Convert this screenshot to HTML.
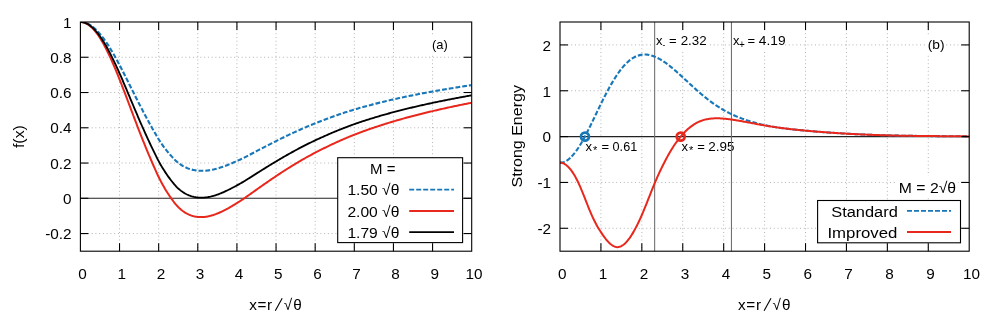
<!DOCTYPE html>
<html><head><meta charset="utf-8"><title>plots</title>
<style>
html,body{margin:0;padding:0;background:#fff;}
svg{display:block;font-family:"Liberation Sans", sans-serif;will-change:transform;}
.grid{stroke:#b4b4b4;stroke-width:1;stroke-dasharray:1 2.75;fill:none;}
.tick{stroke:#000;stroke-width:1.1;fill:none;}
.border{stroke:#000;stroke-width:1.1;fill:none;}
.zero{stroke:#222;stroke-width:1.1;fill:none;}
.vl{stroke:#6c6c6c;stroke-width:1.05;fill:none;}
.t15{font-size:15.3px;fill:#000;}
.t12{font-size:13px;fill:#000;}
.cur{fill:none;stroke-width:1.85;stroke-linejoin:round;}
</style></head><body>
<svg width="997" height="327" viewBox="0 0 997 327">
<rect x="0" y="0" width="997" height="327" fill="#fff"/>
<g id="pa">
<line x1="119.53" y1="22.00" x2="119.53" y2="251.20" class="grid"/>
<line x1="158.66" y1="22.00" x2="158.66" y2="251.20" class="grid"/>
<line x1="197.79" y1="22.00" x2="197.79" y2="251.20" class="grid"/>
<line x1="236.92" y1="22.00" x2="236.92" y2="251.20" class="grid"/>
<line x1="276.05" y1="22.00" x2="276.05" y2="251.20" class="grid"/>
<line x1="315.18" y1="22.00" x2="315.18" y2="251.20" class="grid"/>
<line x1="354.31" y1="22.00" x2="354.31" y2="251.20" class="grid"/>
<line x1="393.44" y1="22.00" x2="393.44" y2="251.20" class="grid"/>
<line x1="432.57" y1="22.00" x2="432.57" y2="251.20" class="grid"/>
<line x1="80.40" y1="57.26" x2="471.70" y2="57.26" class="grid"/>
<line x1="80.40" y1="92.52" x2="471.70" y2="92.52" class="grid"/>
<line x1="80.40" y1="127.78" x2="471.70" y2="127.78" class="grid"/>
<line x1="80.40" y1="163.05" x2="471.70" y2="163.05" class="grid"/>
<line x1="80.40" y1="233.57" x2="471.70" y2="233.57" class="grid"/>
<rect x="430" y="37" width="20" height="18" fill="#fff"/>
<text x="432.0" y="49.4" class="t12" textLength="15.8" lengthAdjust="spacingAndGlyphs">(a)</text>
<line x1="80.4" y1="198.31" x2="471.7" y2="198.31" class="zero"/>
<clipPath id="ca"><rect x="80.4" y="22.0" width="391.29999999999995" height="229.2"/></clipPath>
<g clip-path="url(#ca)">
<path d="M80.40,22.00 L81.38,22.03 L82.36,22.12 L83.33,22.28 L84.31,22.50 L85.29,22.78 L86.27,23.12 L87.25,23.52 L88.23,23.98 L89.20,24.50 L90.18,25.08 L91.16,25.72 L92.14,26.42 L93.12,27.17 L94.10,27.98 L95.07,28.85 L96.05,29.77 L97.03,30.74 L98.01,31.77 L98.99,32.85 L99.97,33.98 L100.94,35.16 L101.92,36.38 L102.90,37.65 L103.88,38.97 L104.86,40.33 L105.83,41.74 L106.81,43.18 L107.79,44.67 L108.77,46.19 L109.75,47.75 L110.73,49.35 L111.70,50.98 L112.68,52.63 L113.66,54.32 L114.64,56.04 L115.62,57.78 L116.60,59.55 L117.57,61.34 L118.55,63.16 L119.53,64.99 L120.51,66.84 L121.49,68.72 L122.46,70.61 L123.44,72.53 L124.42,74.46 L125.40,76.40 L126.38,78.35 L127.36,80.31 L128.33,82.27 L129.31,84.24 L130.29,86.20 L131.27,88.17 L132.25,90.13 L133.23,92.08 L134.20,94.03 L135.18,95.98 L136.16,97.91 L137.14,99.84 L138.12,101.77 L139.09,103.68 L140.07,105.58 L141.05,107.47 L142.03,109.34 L143.01,111.20 L143.99,113.06 L144.96,114.90 L145.94,116.74 L146.92,118.56 L147.90,120.37 L148.88,122.16 L149.86,123.94 L150.83,125.70 L151.81,127.44 L152.79,129.16 L153.77,130.88 L154.75,132.62 L155.73,134.35 L156.70,136.06 L157.68,137.72 L158.66,139.31 L159.64,140.84 L160.62,142.33 L161.59,143.77 L162.57,145.16 L163.55,146.52 L164.53,147.84 L165.51,149.12 L166.49,150.36 L167.46,151.57 L168.44,152.74 L169.42,153.88 L170.40,155.00 L171.38,156.09 L172.36,157.16 L173.33,158.21 L174.31,159.24 L175.29,160.22 L176.27,161.15 L177.25,162.02 L178.22,162.82 L179.20,163.55 L180.18,164.24 L181.16,164.89 L182.14,165.51 L183.12,166.08 L184.09,166.61 L185.07,167.11 L186.05,167.57 L187.03,168.00 L188.01,168.39 L188.99,168.75 L189.96,169.08 L190.94,169.37 L191.92,169.63 L192.90,169.87 L193.88,170.07 L194.86,170.25 L195.83,170.40 L196.81,170.53 L197.79,170.63 L198.77,170.71 L199.75,170.77 L200.72,170.81 L201.70,170.82 L202.68,170.82 L203.66,170.79 L204.64,170.75 L205.62,170.68 L206.59,170.59 L207.57,170.49 L208.55,170.36 L209.53,170.22 L210.51,170.05 L211.49,169.88 L212.46,169.68 L213.44,169.47 L214.42,169.25 L215.40,169.00 L216.38,168.75 L217.35,168.48 L218.33,168.20 L219.31,167.91 L220.29,167.60 L221.27,167.28 L222.25,166.95 L223.22,166.62 L224.20,166.27 L225.18,165.91 L226.16,165.54 L227.14,165.16 L228.12,164.78 L229.09,164.39 L230.07,163.99 L231.05,163.58 L232.03,163.17 L233.01,162.75 L233.99,162.32 L234.96,161.89 L235.94,161.46 L236.92,161.02 L237.90,160.58 L238.88,160.14 L239.85,159.70 L240.83,159.25 L241.81,158.79 L242.79,158.33 L243.77,157.84 L244.75,157.34 L245.72,156.84 L246.70,156.33 L247.68,155.82 L248.66,155.31 L249.64,154.80 L250.62,154.28 L251.59,153.77 L252.57,153.25 L253.55,152.74 L254.53,152.22 L255.51,151.71 L256.49,151.19 L257.46,150.68 L258.44,150.16 L259.42,149.65 L260.40,149.14 L261.38,148.62 L262.35,148.11 L263.33,147.60 L264.31,147.09 L265.29,146.59 L266.27,146.08 L267.25,145.57 L268.22,145.07 L269.20,144.57 L270.18,144.06 L271.16,143.57 L272.14,143.07 L273.12,142.57 L274.09,142.08 L275.07,141.58 L276.05,141.09 L277.03,140.60 L278.01,140.12 L278.98,139.63 L279.96,139.15 L280.94,138.67 L281.92,138.18 L282.90,137.71 L283.88,137.23 L284.85,136.76 L285.83,136.28 L286.81,135.81 L287.79,135.35 L288.77,134.88 L289.75,134.42 L290.72,133.96 L291.70,133.50 L292.68,133.04 L293.66,132.59 L294.64,132.14 L295.62,131.69 L296.59,131.25 L297.57,130.80 L298.55,130.36 L299.53,129.93 L300.51,129.49 L301.48,129.06 L302.46,128.63 L303.44,128.21 L304.42,127.78 L305.40,127.36 L306.38,126.95 L307.35,126.53 L308.33,126.12 L309.31,125.72 L310.29,125.31 L311.27,124.91 L312.25,124.51 L313.22,124.12 L314.20,123.73 L315.18,123.34 L316.16,122.95 L317.14,122.57 L318.11,122.19 L319.09,121.80 L320.07,121.42 L321.05,121.05 L322.03,120.67 L323.01,120.30 L323.98,119.93 L324.96,119.56 L325.94,119.19 L326.92,118.82 L327.90,118.46 L328.88,118.10 L329.85,117.74 L330.83,117.38 L331.81,117.02 L332.79,116.67 L333.77,116.32 L334.75,115.97 L335.72,115.62 L336.70,115.28 L337.68,114.94 L338.66,114.60 L339.64,114.26 L340.61,113.93 L341.59,113.60 L342.57,113.27 L343.55,112.94 L344.53,112.62 L345.51,112.30 L346.48,111.98 L347.46,111.67 L348.44,111.36 L349.42,111.05 L350.40,110.74 L351.38,110.44 L352.35,110.14 L353.33,109.84 L354.31,109.55 L355.29,109.26 L356.27,108.97 L357.24,108.68 L358.22,108.40 L359.20,108.11 L360.18,107.83 L361.16,107.56 L362.14,107.28 L363.11,107.01 L364.09,106.74 L365.07,106.47 L366.05,106.20 L367.03,105.93 L368.01,105.67 L368.98,105.41 L369.96,105.15 L370.94,104.89 L371.92,104.63 L372.90,104.38 L373.88,104.12 L374.85,103.87 L375.83,103.62 L376.81,103.37 L377.79,103.13 L378.77,102.88 L379.74,102.64 L380.72,102.40 L381.70,102.16 L382.68,101.92 L383.66,101.68 L384.64,101.45 L385.61,101.22 L386.59,100.98 L387.57,100.75 L388.55,100.52 L389.53,100.30 L390.51,100.07 L391.48,99.85 L392.46,99.62 L393.44,99.40 L394.42,99.18 L395.40,98.96 L396.37,98.74 L397.35,98.52 L398.33,98.31 L399.31,98.09 L400.29,97.88 L401.27,97.67 L402.24,97.46 L403.22,97.25 L404.20,97.05 L405.18,96.84 L406.16,96.63 L407.14,96.43 L408.11,96.23 L409.09,96.03 L410.07,95.83 L411.05,95.63 L412.03,95.43 L413.00,95.24 L413.98,95.04 L414.96,94.85 L415.94,94.65 L416.92,94.46 L417.90,94.27 L418.87,94.08 L419.85,93.89 L420.83,93.70 L421.81,93.52 L422.79,93.33 L423.77,93.15 L424.74,92.96 L425.72,92.78 L426.70,92.60 L427.68,92.42 L428.66,92.24 L429.64,92.06 L430.61,91.88 L431.59,91.70 L432.57,91.52 L433.55,91.35 L434.53,91.17 L435.50,91.00 L436.48,90.83 L437.46,90.65 L438.44,90.48 L439.42,90.31 L440.40,90.14 L441.37,89.97 L442.35,89.80 L443.33,89.64 L444.31,89.47 L445.29,89.30 L446.27,89.14 L447.24,88.97 L448.22,88.81 L449.20,88.65 L450.18,88.49 L451.16,88.33 L452.13,88.17 L453.11,88.01 L454.09,87.85 L455.07,87.69 L456.05,87.53 L457.03,87.38 L458.00,87.22 L458.98,87.07 L459.96,86.91 L460.94,86.76 L461.92,86.61 L462.90,86.45 L463.87,86.30 L464.85,86.15 L465.83,86.00 L466.81,85.85 L467.79,85.71 L468.77,85.56 L469.74,85.41 L470.72,85.26 L471.70,85.12" class="cur" stroke="#1777b8" style="stroke-width:2.1" stroke-dasharray="4.8 2"/>
<path d="M80.40,22.00 L81.38,22.04 L82.36,22.17 L83.33,22.37 L84.31,22.66 L85.29,23.03 L86.27,23.49 L87.25,24.02 L88.23,24.64 L89.20,25.33 L90.18,26.11 L91.16,26.96 L92.14,27.89 L93.12,28.89 L94.10,29.98 L95.07,31.13 L96.05,32.36 L97.03,33.66 L98.01,35.03 L98.99,36.47 L99.97,37.97 L100.94,39.54 L101.92,41.17 L102.90,42.87 L103.88,44.63 L104.86,46.44 L105.83,48.32 L106.81,50.24 L107.79,52.22 L108.77,54.25 L109.75,56.33 L110.73,58.45 L111.70,60.62 L112.68,62.83 L113.66,65.08 L114.64,67.37 L115.62,69.69 L116.60,72.05 L117.57,74.43 L118.55,76.85 L119.53,79.29 L120.51,81.76 L121.49,84.25 L122.46,86.77 L123.44,89.31 L124.42,91.87 L125.40,94.45 L126.38,97.03 L127.36,99.63 L128.33,102.23 L129.31,104.84 L130.29,107.44 L131.27,110.04 L132.25,112.64 L133.23,115.23 L134.20,117.82 L135.18,120.40 L136.16,122.96 L137.14,125.52 L138.12,128.06 L139.09,130.59 L140.07,133.10 L141.05,135.59 L142.03,138.07 L143.01,140.53 L143.99,142.97 L144.96,145.39 L145.94,147.80 L146.92,150.19 L147.90,152.55 L148.88,154.90 L149.86,157.22 L150.83,159.51 L151.81,161.77 L152.79,164.00 L153.77,166.23 L154.75,168.45 L155.73,170.67 L156.70,172.85 L157.68,174.97 L158.66,177.01 L159.64,178.98 L160.62,180.89 L161.59,182.74 L162.57,184.54 L163.55,186.29 L164.53,187.99 L165.51,189.64 L166.49,191.24 L167.46,192.79 L168.44,194.30 L169.42,195.76 L170.40,197.19 L171.38,198.57 L172.36,199.93 L173.33,201.26 L174.31,202.54 L175.29,203.78 L176.27,204.95 L177.25,206.04 L178.22,207.05 L179.20,207.99 L180.18,208.87 L181.16,209.71 L182.14,210.49 L183.12,211.22 L184.09,211.90 L185.07,212.54 L186.05,213.12 L187.03,213.67 L188.01,214.16 L188.99,214.62 L189.96,215.03 L190.94,215.40 L191.92,215.73 L192.90,216.02 L193.88,216.27 L194.86,216.49 L195.83,216.67 L196.81,216.81 L197.79,216.93 L198.77,217.01 L199.75,217.06 L200.72,217.09 L201.70,217.08 L202.68,217.05 L203.66,216.99 L204.64,216.90 L205.62,216.78 L206.59,216.64 L207.57,216.47 L208.55,216.28 L209.53,216.06 L210.51,215.82 L211.49,215.55 L212.46,215.26 L213.44,214.96 L214.42,214.63 L215.40,214.28 L216.38,213.92 L217.35,213.53 L218.33,213.13 L219.31,212.71 L220.29,212.28 L221.27,211.83 L222.25,211.36 L223.22,210.88 L224.20,210.39 L225.18,209.89 L226.16,209.37 L227.14,208.84 L228.12,208.31 L229.09,207.76 L230.07,207.20 L231.05,206.63 L232.03,206.06 L233.01,205.47 L233.99,204.88 L234.96,204.28 L235.94,203.68 L236.92,203.07 L237.90,202.45 L238.88,201.84 L239.85,201.23 L240.83,200.60 L241.81,199.97 L242.79,199.33 L243.77,198.67 L244.75,197.99 L245.72,197.30 L246.70,196.61 L247.68,195.93 L248.66,195.24 L249.64,194.54 L250.62,193.85 L251.59,193.16 L252.57,192.46 L253.55,191.77 L254.53,191.07 L255.51,190.38 L256.49,189.69 L257.46,188.99 L258.44,188.30 L259.42,187.61 L260.40,186.92 L261.38,186.23 L262.35,185.54 L263.33,184.86 L264.31,184.18 L265.29,183.49 L266.27,182.81 L267.25,182.14 L268.22,181.46 L269.20,180.79 L270.18,180.12 L271.16,179.45 L272.14,178.78 L273.12,178.12 L274.09,177.46 L275.07,176.80 L276.05,176.15 L277.03,175.50 L278.01,174.85 L278.98,174.20 L279.96,173.56 L280.94,172.92 L281.92,172.28 L282.90,171.64 L283.88,171.01 L284.85,170.38 L285.83,169.76 L286.81,169.14 L287.79,168.52 L288.77,167.90 L289.75,167.29 L290.72,166.68 L291.70,166.08 L292.68,165.47 L293.66,164.88 L294.64,164.28 L295.62,163.69 L296.59,163.11 L297.57,162.52 L298.55,161.94 L299.53,161.37 L300.51,160.80 L301.48,160.23 L302.46,159.67 L303.44,159.11 L304.42,158.55 L305.40,158.00 L306.38,157.45 L307.35,156.91 L308.33,156.37 L309.31,155.83 L310.29,155.30 L311.27,154.78 L312.25,154.25 L313.22,153.73 L314.20,153.22 L315.18,152.71 L316.16,152.20 L317.14,151.70 L318.11,151.20 L319.09,150.70 L320.07,150.20 L321.05,149.71 L322.03,149.22 L323.01,148.73 L323.98,148.24 L324.96,147.76 L325.94,147.28 L326.92,146.80 L327.90,146.33 L328.88,145.86 L329.85,145.39 L330.83,144.92 L331.81,144.46 L332.79,144.00 L333.77,143.55 L334.75,143.09 L335.72,142.64 L336.70,142.20 L337.68,141.75 L338.66,141.31 L339.64,140.87 L340.61,140.44 L341.59,140.01 L342.57,139.58 L343.55,139.16 L344.53,138.74 L345.51,138.32 L346.48,137.91 L347.46,137.50 L348.44,137.09 L349.42,136.69 L350.40,136.29 L351.38,135.90 L352.35,135.51 L353.33,135.12 L354.31,134.73 L355.29,134.35 L356.27,133.98 L357.24,133.60 L358.22,133.23 L359.20,132.86 L360.18,132.49 L361.16,132.13 L362.14,131.77 L363.11,131.41 L364.09,131.05 L365.07,130.70 L366.05,130.35 L367.03,130.00 L368.01,129.65 L368.98,129.31 L369.96,128.97 L370.94,128.63 L371.92,128.30 L372.90,127.96 L373.88,127.63 L374.85,127.30 L375.83,126.97 L376.81,126.65 L377.79,126.33 L378.77,126.01 L379.74,125.69 L380.72,125.37 L381.70,125.06 L382.68,124.74 L383.66,124.43 L384.64,124.13 L385.61,123.82 L386.59,123.52 L387.57,123.21 L388.55,122.91 L389.53,122.61 L390.51,122.32 L391.48,122.02 L392.46,121.73 L393.44,121.44 L394.42,121.15 L395.40,120.86 L396.37,120.57 L397.35,120.29 L398.33,120.01 L399.31,119.73 L400.29,119.45 L401.27,119.17 L402.24,118.90 L403.22,118.62 L404.20,118.35 L405.18,118.08 L406.16,117.81 L407.14,117.55 L408.11,117.28 L409.09,117.02 L410.07,116.76 L411.05,116.49 L412.03,116.24 L413.00,115.98 L413.98,115.72 L414.96,115.47 L415.94,115.21 L416.92,114.96 L417.90,114.71 L418.87,114.46 L419.85,114.22 L420.83,113.97 L421.81,113.72 L422.79,113.48 L423.77,113.24 L424.74,113.00 L425.72,112.76 L426.70,112.52 L427.68,112.28 L428.66,112.05 L429.64,111.81 L430.61,111.58 L431.59,111.35 L432.57,111.11 L433.55,110.88 L434.53,110.65 L435.50,110.43 L436.48,110.20 L437.46,109.97 L438.44,109.75 L439.42,109.53 L440.40,109.30 L441.37,109.08 L442.35,108.86 L443.33,108.64 L444.31,108.43 L445.29,108.21 L446.27,108.00 L447.24,107.78 L448.22,107.57 L449.20,107.36 L450.18,107.14 L451.16,106.93 L452.13,106.73 L453.11,106.52 L454.09,106.31 L455.07,106.10 L456.05,105.90 L457.03,105.69 L458.00,105.49 L458.98,105.29 L459.96,105.09 L460.94,104.89 L461.92,104.69 L462.90,104.49 L463.87,104.29 L464.85,104.10 L465.83,103.90 L466.81,103.71 L467.79,103.51 L468.77,103.32 L469.74,103.13 L470.72,102.94 L471.70,102.75" class="cur" stroke="#e8281c" style="stroke-width:2.0"/>
<path d="M80.40,22.00 L81.38,22.04 L82.36,22.15 L83.33,22.33 L84.31,22.59 L85.29,22.93 L86.27,23.33 L87.25,23.81 L88.23,24.36 L89.20,24.98 L90.18,25.67 L91.16,26.44 L92.14,27.27 L93.12,28.17 L94.10,29.14 L95.07,30.17 L96.05,31.27 L97.03,32.43 L98.01,33.66 L98.99,34.95 L99.97,36.29 L100.94,37.70 L101.92,39.16 L102.90,40.68 L103.88,42.25 L104.86,43.88 L105.83,45.55 L106.81,47.28 L107.79,49.05 L108.77,50.87 L109.75,52.73 L110.73,54.63 L111.70,56.57 L112.68,58.55 L113.66,60.56 L114.64,62.61 L115.62,64.69 L116.60,66.80 L117.57,68.94 L118.55,71.10 L119.53,73.28 L120.51,75.49 L121.49,77.73 L122.46,79.98 L123.44,82.26 L124.42,84.56 L125.40,86.87 L126.38,89.19 L127.36,91.51 L128.33,93.85 L129.31,96.18 L130.29,98.52 L131.27,100.86 L132.25,103.19 L133.23,105.51 L134.20,107.83 L135.18,110.14 L136.16,112.44 L137.14,114.73 L138.12,117.02 L139.09,119.28 L140.07,121.54 L141.05,123.78 L142.03,126.00 L143.01,128.21 L143.99,130.41 L144.96,132.59 L145.94,134.75 L146.92,136.90 L147.90,139.04 L148.88,141.15 L149.86,143.24 L150.83,145.31 L151.81,147.35 L152.79,149.37 L153.77,151.38 L154.75,153.41 L155.73,155.42 L156.70,157.40 L157.68,159.32 L158.66,161.18 L159.64,162.96 L160.62,164.69 L161.59,166.37 L162.57,168.00 L163.55,169.59 L164.53,171.12 L165.51,172.62 L166.49,174.07 L167.46,175.47 L168.44,176.84 L169.42,178.17 L170.40,179.47 L171.38,180.73 L172.36,181.97 L173.33,183.18 L174.31,184.36 L175.29,185.48 L176.27,186.55 L177.25,187.55 L178.22,188.47 L179.20,189.32 L180.18,190.13 L181.16,190.89 L182.14,191.60 L183.12,192.26 L184.09,192.88 L185.07,193.46 L186.05,193.99 L187.03,194.49 L188.01,194.94 L188.99,195.35 L189.96,195.73 L190.94,196.07 L191.92,196.37 L192.90,196.63 L193.88,196.87 L194.86,197.07 L195.83,197.24 L196.81,197.38 L197.79,197.48 L198.77,197.57 L199.75,197.62 L200.72,197.65 L201.70,197.65 L202.68,197.63 L203.66,197.59 L204.64,197.52 L205.62,197.42 L206.59,197.30 L207.57,197.16 L208.55,196.99 L209.53,196.80 L210.51,196.60 L211.49,196.37 L212.46,196.12 L213.44,195.85 L214.42,195.57 L215.40,195.27 L216.38,194.95 L217.35,194.61 L218.33,194.26 L219.31,193.89 L220.29,193.51 L221.27,193.12 L222.25,192.71 L223.22,192.29 L224.20,191.86 L225.18,191.42 L226.16,190.96 L227.14,190.50 L228.12,190.02 L229.09,189.54 L230.07,189.05 L231.05,188.55 L232.03,188.04 L233.01,187.53 L233.99,187.01 L234.96,186.48 L235.94,185.94 L236.92,185.41 L237.90,184.86 L238.88,184.33 L239.85,183.78 L240.83,183.23 L241.81,182.68 L242.79,182.11 L243.77,181.52 L244.75,180.92 L245.72,180.31 L246.70,179.69 L247.68,179.08 L248.66,178.47 L249.64,177.85 L250.62,177.23 L251.59,176.61 L252.57,175.99 L253.55,175.38 L254.53,174.76 L255.51,174.14 L256.49,173.52 L257.46,172.90 L258.44,172.28 L259.42,171.67 L260.40,171.05 L261.38,170.44 L262.35,169.82 L263.33,169.21 L264.31,168.60 L265.29,167.99 L266.27,167.38 L267.25,166.78 L268.22,166.18 L269.20,165.57 L270.18,164.98 L271.16,164.38 L272.14,163.78 L273.12,163.19 L274.09,162.60 L275.07,162.01 L276.05,161.43 L277.03,160.84 L278.01,160.26 L278.98,159.68 L279.96,159.11 L280.94,158.53 L281.92,157.96 L282.90,157.39 L283.88,156.82 L284.85,156.26 L285.83,155.70 L286.81,155.14 L287.79,154.58 L288.77,154.03 L289.75,153.48 L290.72,152.94 L291.70,152.39 L292.68,151.85 L293.66,151.32 L294.64,150.78 L295.62,150.25 L296.59,149.72 L297.57,149.20 L298.55,148.68 L299.53,148.16 L300.51,147.65 L301.48,147.14 L302.46,146.63 L303.44,146.13 L304.42,145.63 L305.40,145.13 L306.38,144.64 L307.35,144.15 L308.33,143.67 L309.31,143.19 L310.29,142.71 L311.27,142.23 L312.25,141.76 L313.22,141.30 L314.20,140.83 L315.18,140.37 L316.16,139.92 L317.14,139.46 L318.11,139.01 L319.09,138.56 L320.07,138.11 L321.05,137.67 L322.03,137.23 L323.01,136.79 L323.98,136.35 L324.96,135.91 L325.94,135.48 L326.92,135.05 L327.90,134.62 L328.88,134.20 L329.85,133.77 L330.83,133.35 L331.81,132.94 L332.79,132.52 L333.77,132.11 L334.75,131.70 L335.72,131.29 L336.70,130.89 L337.68,130.49 L338.66,130.09 L339.64,129.70 L340.61,129.31 L341.59,128.92 L342.57,128.53 L343.55,128.15 L344.53,127.77 L345.51,127.39 L346.48,127.02 L347.46,126.65 L348.44,126.28 L349.42,125.92 L350.40,125.56 L351.38,125.20 L352.35,124.85 L353.33,124.50 L354.31,124.16 L355.29,123.81 L356.27,123.47 L357.24,123.13 L358.22,122.80 L359.20,122.47 L360.18,122.14 L361.16,121.81 L362.14,121.48 L363.11,121.16 L364.09,120.84 L365.07,120.52 L366.05,120.21 L367.03,119.89 L368.01,119.58 L368.98,119.27 L369.96,118.96 L370.94,118.66 L371.92,118.36 L372.90,118.06 L373.88,117.76 L374.85,117.46 L375.83,117.17 L376.81,116.87 L377.79,116.58 L378.77,116.29 L379.74,116.01 L380.72,115.72 L381.70,115.44 L382.68,115.16 L383.66,114.88 L384.64,114.60 L385.61,114.33 L386.59,114.05 L387.57,113.78 L388.55,113.51 L389.53,113.24 L390.51,112.97 L391.48,112.71 L392.46,112.44 L393.44,112.18 L394.42,111.92 L395.40,111.66 L396.37,111.40 L397.35,111.15 L398.33,110.89 L399.31,110.64 L400.29,110.39 L401.27,110.14 L402.24,109.89 L403.22,109.65 L404.20,109.40 L405.18,109.16 L406.16,108.92 L407.14,108.68 L408.11,108.44 L409.09,108.20 L410.07,107.97 L411.05,107.73 L412.03,107.50 L413.00,107.27 L413.98,107.04 L414.96,106.81 L415.94,106.58 L416.92,106.35 L417.90,106.13 L418.87,105.90 L419.85,105.68 L420.83,105.46 L421.81,105.24 L422.79,105.02 L423.77,104.80 L424.74,104.58 L425.72,104.37 L426.70,104.15 L427.68,103.94 L428.66,103.73 L429.64,103.51 L430.61,103.30 L431.59,103.09 L432.57,102.89 L433.55,102.68 L434.53,102.47 L435.50,102.27 L436.48,102.06 L437.46,101.86 L438.44,101.66 L439.42,101.46 L440.40,101.26 L441.37,101.06 L442.35,100.86 L443.33,100.66 L444.31,100.47 L445.29,100.27 L446.27,100.08 L447.24,99.88 L448.22,99.69 L449.20,99.50 L450.18,99.31 L451.16,99.12 L452.13,98.93 L453.11,98.74 L454.09,98.56 L455.07,98.37 L456.05,98.19 L457.03,98.00 L458.00,97.82 L458.98,97.64 L459.96,97.45 L460.94,97.27 L461.92,97.09 L462.90,96.92 L463.87,96.74 L464.85,96.56 L465.83,96.38 L466.81,96.21 L467.79,96.03 L468.77,95.86 L469.74,95.69 L470.72,95.52 L471.70,95.34" class="cur" stroke="#000000"/>
</g>
<line x1="119.53" y1="251.20" x2="119.53" y2="243.20" class="tick"/>
<line x1="119.53" y1="22.00" x2="119.53" y2="30.00" class="tick"/>
<line x1="158.66" y1="251.20" x2="158.66" y2="243.20" class="tick"/>
<line x1="158.66" y1="22.00" x2="158.66" y2="30.00" class="tick"/>
<line x1="197.79" y1="251.20" x2="197.79" y2="243.20" class="tick"/>
<line x1="197.79" y1="22.00" x2="197.79" y2="30.00" class="tick"/>
<line x1="236.92" y1="251.20" x2="236.92" y2="243.20" class="tick"/>
<line x1="236.92" y1="22.00" x2="236.92" y2="30.00" class="tick"/>
<line x1="276.05" y1="251.20" x2="276.05" y2="243.20" class="tick"/>
<line x1="276.05" y1="22.00" x2="276.05" y2="30.00" class="tick"/>
<line x1="315.18" y1="251.20" x2="315.18" y2="243.20" class="tick"/>
<line x1="315.18" y1="22.00" x2="315.18" y2="30.00" class="tick"/>
<line x1="354.31" y1="251.20" x2="354.31" y2="243.20" class="tick"/>
<line x1="354.31" y1="22.00" x2="354.31" y2="30.00" class="tick"/>
<line x1="393.44" y1="251.20" x2="393.44" y2="243.20" class="tick"/>
<line x1="393.44" y1="22.00" x2="393.44" y2="30.00" class="tick"/>
<line x1="432.57" y1="251.20" x2="432.57" y2="243.20" class="tick"/>
<line x1="432.57" y1="22.00" x2="432.57" y2="30.00" class="tick"/>
<line x1="80.40" y1="57.26" x2="88.40" y2="57.26" class="tick"/>
<line x1="471.70" y1="57.26" x2="463.70" y2="57.26" class="tick"/>
<line x1="80.40" y1="92.52" x2="88.40" y2="92.52" class="tick"/>
<line x1="471.70" y1="92.52" x2="463.70" y2="92.52" class="tick"/>
<line x1="80.40" y1="127.78" x2="88.40" y2="127.78" class="tick"/>
<line x1="471.70" y1="127.78" x2="463.70" y2="127.78" class="tick"/>
<line x1="80.40" y1="163.05" x2="88.40" y2="163.05" class="tick"/>
<line x1="471.70" y1="163.05" x2="463.70" y2="163.05" class="tick"/>
<line x1="80.40" y1="198.31" x2="88.40" y2="198.31" class="tick"/>
<line x1="471.70" y1="198.31" x2="463.70" y2="198.31" class="tick"/>
<line x1="80.40" y1="233.57" x2="88.40" y2="233.57" class="tick"/>
<line x1="471.70" y1="233.57" x2="463.70" y2="233.57" class="tick"/>
<rect x="337.7" y="157.7" width="124.9" height="84.9" fill="#fff" stroke="#000" stroke-width="1.1"/>
<text x="370.0" y="174.0" class="t15" textLength="25.4" lengthAdjust="spacingAndGlyphs">M =</text>
<text x="347.4" y="195.3" class="t15" textLength="52.0" lengthAdjust="spacingAndGlyphs">1.50 √θ</text>
<line x1="409.2" y1="189.6" x2="454.0" y2="189.6" stroke="#1777b8" stroke-width="1.9" stroke-dasharray="5 2"/>
<text x="347.4" y="216.7" class="t15" textLength="52.0" lengthAdjust="spacingAndGlyphs">2.00 √θ</text>
<line x1="409.2" y1="210.9" x2="454.0" y2="210.9" stroke="#e8281c" stroke-width="2.0"/>
<text x="347.4" y="238.0" class="t15" textLength="52.0" lengthAdjust="spacingAndGlyphs">1.79 √θ</text>
<line x1="409.2" y1="232.2" x2="454.0" y2="232.2" stroke="#000000" stroke-width="1.75"/>
<rect x="80.4" y="22.0" width="391.30" height="229.20" class="border"/>
<text x="71.6" y="27.6" class="t15" text-anchor="end">1</text>
<text x="71.6" y="62.9" class="t15" text-anchor="end">0.8</text>
<text x="71.6" y="98.1" class="t15" text-anchor="end">0.6</text>
<text x="71.6" y="133.4" class="t15" text-anchor="end">0.4</text>
<text x="71.6" y="168.6" class="t15" text-anchor="end">0.2</text>
<text x="71.6" y="203.9" class="t15" text-anchor="end">0</text>
<text x="71.6" y="239.2" class="t15" text-anchor="end">-0.2</text>
<text x="82.6" y="278.9" class="t15" text-anchor="middle">0</text>
<text x="121.7" y="278.9" class="t15" text-anchor="middle">1</text>
<text x="160.9" y="278.9" class="t15" text-anchor="middle">2</text>
<text x="200.0" y="278.9" class="t15" text-anchor="middle">3</text>
<text x="239.1" y="278.9" class="t15" text-anchor="middle">4</text>
<text x="278.2" y="278.9" class="t15" text-anchor="middle">5</text>
<text x="317.4" y="278.9" class="t15" text-anchor="middle">6</text>
<text x="356.5" y="278.9" class="t15" text-anchor="middle">7</text>
<text x="395.6" y="278.9" class="t15" text-anchor="middle">8</text>
<text x="434.8" y="278.9" class="t15" text-anchor="middle">9</text>
<text x="473.9" y="278.9" class="t15" text-anchor="middle">10</text>
<text transform="translate(24.0,136.6) rotate(-90)" class="t15" text-anchor="middle" textLength="23" lengthAdjust="spacingAndGlyphs">f(x)</text>
<text y="310.4" class="t15"><tspan x="249.3">x</tspan><tspan x="257.5">=</tspan><tspan x="267.1">r</tspan><tspan x="283.8">√</tspan><tspan x="293.3">θ</tspan></text>
<line x1="275.3" y1="310.8" x2="282.2" y2="298.3" stroke="#000" stroke-width="1.1"/>
</g>
<g id="pb">
<line x1="600.92" y1="22.00" x2="600.92" y2="251.20" class="grid"/>
<line x1="641.84" y1="22.00" x2="641.84" y2="251.20" class="grid"/>
<line x1="682.76" y1="22.00" x2="682.76" y2="251.20" class="grid"/>
<line x1="723.68" y1="22.00" x2="723.68" y2="251.20" class="grid"/>
<line x1="764.60" y1="22.00" x2="764.60" y2="251.20" class="grid"/>
<line x1="805.52" y1="22.00" x2="805.52" y2="251.20" class="grid"/>
<line x1="846.44" y1="22.00" x2="846.44" y2="251.20" class="grid"/>
<line x1="887.36" y1="22.00" x2="887.36" y2="251.20" class="grid"/>
<line x1="928.28" y1="22.00" x2="928.28" y2="251.20" class="grid"/>
<line x1="560.00" y1="44.92" x2="969.20" y2="44.92" class="grid"/>
<line x1="560.00" y1="90.76" x2="969.20" y2="90.76" class="grid"/>
<line x1="560.00" y1="182.44" x2="969.20" y2="182.44" class="grid"/>
<line x1="560.00" y1="228.28" x2="969.20" y2="228.28" class="grid"/>
<rect x="655.2" y="30.5" width="53" height="20" fill="#fff"/>
<rect x="732.2" y="30.5" width="53" height="20" fill="#fff"/>
<rect x="926" y="37" width="20" height="18" fill="#fff"/>
<rect x="585" y="137.2" width="54" height="17.3" fill="#fff"/>
<rect x="681" y="137.2" width="55" height="17.3" fill="#fff"/>
<rect x="897" y="176" width="61" height="20" fill="#fff"/>
<line x1="560.0" y1="136.60" x2="969.2" y2="136.60" class="zero"/>
<text y="45.1" class="t12"><tspan x="655.9">x</tspan><tspan x="662.5" dy="2.6" font-size="8.5">-</tspan><tspan x="669.1" dy="-2.6">=</tspan><tspan x="680.7" textLength="26.0" lengthAdjust="spacingAndGlyphs">2.32</tspan></text>
<text y="45.1" class="t12"><tspan x="733.0">x</tspan><tspan x="739.0" dy="3.0" font-size="10">+</tspan><tspan x="747.4" dy="-3.0">=</tspan><tspan x="758.8" textLength="26.8" lengthAdjust="spacingAndGlyphs">4.19</tspan></text>
<text y="150.7" class="t12"><tspan x="585.6">x</tspan><tspan x="593.0" dy="3.6" font-size="11">*</tspan><tspan x="601.6" dy="-3.6">=</tspan><tspan x="612.6" textLength="24.6" lengthAdjust="spacingAndGlyphs">0.61</tspan></text>
<text y="150.7" class="t12"><tspan x="681.5">x</tspan><tspan x="688.9" dy="3.6" font-size="11">*</tspan><tspan x="697.2" dy="-3.6">=</tspan><tspan x="708.2" textLength="26.2" lengthAdjust="spacingAndGlyphs">2.95</tspan></text>
<text x="927.8" y="49.4" class="t12" textLength="16.8" lengthAdjust="spacingAndGlyphs">(b)</text>
<text x="898.8" y="192.9" class="t15" textLength="57.3" lengthAdjust="spacingAndGlyphs">M = 2√θ</text>
<line x1="654.65" y1="22.0" x2="654.65" y2="251.2" class="vl"/>
<line x1="731.45" y1="22.0" x2="731.45" y2="251.2" class="vl"/>
<clipPath id="cb"><rect x="560.0" y="22.0" width="409.20000000000005" height="229.2"/></clipPath>
<g clip-path="url(#cb)">
<path d="M560.00,162.67 L561.02,162.62 L562.05,162.48 L563.07,162.23 L564.09,161.90 L565.12,161.46 L566.14,160.93 L567.16,160.31 L568.18,159.59 L569.21,158.78 L570.23,157.89 L571.25,156.90 L572.28,155.83 L573.30,154.67 L574.32,153.43 L575.35,152.11 L576.37,150.72 L577.39,149.25 L578.41,147.71 L579.44,146.11 L580.46,144.44 L581.48,142.71 L582.51,140.92 L583.53,139.09 L584.55,137.20 L585.58,135.27 L586.60,133.30 L587.62,131.30 L588.64,129.26 L589.67,127.20 L590.69,125.12 L591.71,123.02 L592.74,120.91 L593.76,118.78 L594.78,116.65 L595.81,114.52 L596.83,112.39 L597.85,110.26 L598.87,108.15 L599.90,106.04 L600.92,103.94 L601.94,101.87 L602.97,99.81 L603.99,97.78 L605.01,95.77 L606.03,93.79 L607.06,91.84 L608.08,89.92 L609.10,88.04 L610.13,86.19 L611.15,84.39 L612.17,82.63 L613.20,80.91 L614.22,79.23 L615.24,77.61 L616.26,76.03 L617.29,74.50 L618.31,73.02 L619.33,71.60 L620.36,70.22 L621.38,68.91 L622.40,67.65 L623.43,66.44 L624.45,65.29 L625.47,64.20 L626.50,63.17 L627.52,62.20 L628.54,61.28 L629.56,60.43 L630.59,59.63 L631.61,58.90 L632.63,58.22 L633.66,57.60 L634.68,57.04 L635.70,56.54 L636.73,56.10 L637.75,55.71 L638.77,55.38 L639.79,55.11 L640.82,54.89 L641.84,54.72 L642.86,54.61 L643.89,54.55 L644.91,54.54 L645.93,54.57 L646.96,54.65 L647.98,54.78 L649.00,54.96 L650.02,55.17 L651.05,55.43 L652.07,55.73 L653.09,56.07 L654.12,56.44 L655.14,56.85 L656.16,57.30 L657.19,57.78 L658.21,58.30 L659.23,58.84 L660.25,59.42 L661.28,60.02 L662.30,60.66 L663.32,61.32 L664.35,62.00 L665.37,62.71 L666.39,63.44 L667.41,64.19 L668.44,64.97 L669.46,65.76 L670.48,66.57 L671.51,67.40 L672.53,68.25 L673.55,69.11 L674.58,69.98 L675.60,70.86 L676.62,71.76 L677.64,72.67 L678.67,73.58 L679.69,74.51 L680.71,75.44 L681.74,76.37 L682.76,77.31 L683.78,78.26 L684.81,79.21 L685.83,80.15 L686.85,81.10 L687.88,82.05 L688.90,83.00 L689.92,83.95 L690.94,84.89 L691.97,85.83 L692.99,86.76 L694.01,87.69 L695.04,88.62 L696.06,89.53 L697.08,90.44 L698.11,91.34 L699.13,92.23 L700.15,93.12 L701.17,93.99 L702.20,94.85 L703.22,95.70 L704.24,96.54 L705.27,97.37 L706.29,98.19 L707.31,99.00 L708.34,99.79 L709.36,100.57 L710.38,101.34 L711.40,102.09 L712.43,102.83 L713.45,103.55 L714.47,104.27 L715.50,104.96 L716.52,105.65 L717.54,106.32 L718.57,106.98 L719.59,107.62 L720.61,108.25 L721.63,108.87 L722.66,109.47 L723.68,110.06 L724.70,110.63 L725.73,111.20 L726.75,111.75 L727.77,112.28 L728.80,112.81 L729.82,113.32 L730.84,113.83 L731.86,114.32 L732.89,114.80 L733.91,115.26 L734.93,115.72 L735.96,116.17 L736.98,116.60 L738.00,117.03 L739.03,117.45 L740.05,117.85 L741.07,118.25 L742.09,118.63 L743.12,119.01 L744.14,119.38 L745.16,119.74 L746.19,120.09 L747.21,120.43 L748.23,120.76 L749.25,121.09 L750.28,121.41 L751.30,121.72 L752.32,122.02 L753.35,122.31 L754.37,122.60 L755.39,122.88 L756.42,123.15 L757.44,123.42 L758.46,123.68 L759.49,123.93 L760.51,124.17 L761.53,124.41 L762.55,124.65 L763.58,124.88 L764.60,125.10 L765.62,125.32 L766.65,125.54 L767.67,125.75 L768.69,125.96 L769.72,126.16 L770.74,126.35 L771.76,126.53 L772.78,126.71 L773.81,126.88 L774.83,127.05 L775.85,127.21 L776.88,127.37 L777.90,127.52 L778.92,127.67 L779.95,127.82 L780.97,127.96 L781.99,128.10 L783.01,128.23 L784.04,128.36 L785.06,128.49 L786.08,128.61 L787.11,128.74 L788.13,128.86 L789.15,128.97 L790.18,129.09 L791.20,129.20 L792.22,129.31 L793.24,129.42 L794.27,129.53 L795.29,129.63 L796.31,129.74 L797.34,129.84 L798.36,129.94 L799.38,130.05 L800.40,130.15 L801.43,130.25 L802.45,130.35 L803.47,130.45 L804.50,130.54 L805.52,130.64 L806.54,130.74 L807.57,130.83 L808.59,130.92 L809.61,131.01 L810.63,131.10 L811.66,131.19 L812.68,131.28 L813.70,131.37 L814.73,131.46 L815.75,131.54 L816.77,131.63 L817.80,131.71 L818.82,131.79 L819.84,131.87 L820.87,131.95 L821.89,132.03 L822.91,132.11 L823.93,132.19 L824.96,132.27 L825.98,132.34 L827.00,132.42 L828.03,132.49 L829.05,132.56 L830.07,132.63 L831.10,132.71 L832.12,132.78 L833.14,132.84 L834.16,132.91 L835.19,132.98 L836.21,133.05 L837.23,133.11 L838.26,133.18 L839.28,133.24 L840.30,133.30 L841.33,133.37 L842.35,133.43 L843.37,133.49 L844.39,133.55 L845.42,133.61 L846.44,133.67 L847.46,133.72 L848.49,133.78 L849.51,133.84 L850.53,133.89 L851.56,133.95 L852.58,134.00 L853.60,134.05 L854.62,134.10 L855.65,134.15 L856.67,134.20 L857.69,134.25 L858.72,134.30 L859.74,134.35 L860.76,134.40 L861.79,134.44 L862.81,134.49 L863.83,134.53 L864.85,134.58 L865.88,134.62 L866.90,134.66 L867.92,134.71 L868.95,134.75 L869.97,134.79 L870.99,134.83 L872.02,134.87 L873.04,134.90 L874.06,134.94 L875.08,134.98 L876.11,135.01 L877.13,135.05 L878.15,135.08 L879.18,135.12 L880.20,135.15 L881.22,135.18 L882.25,135.21 L883.27,135.25 L884.29,135.28 L885.31,135.31 L886.34,135.33 L887.36,135.36 L888.38,135.39 L889.41,135.42 L890.43,135.44 L891.45,135.47 L892.48,135.49 L893.50,135.52 L894.52,135.54 L895.54,135.56 L896.57,135.59 L897.59,135.61 L898.61,135.63 L899.64,135.65 L900.66,135.67 L901.68,135.69 L902.71,135.71 L903.73,135.73 L904.75,135.74 L905.77,135.76 L906.80,135.78 L907.82,135.80 L908.84,135.81 L909.87,135.83 L910.89,135.84 L911.91,135.86 L912.94,135.87 L913.96,135.89 L914.98,135.90 L916.00,135.91 L917.03,135.93 L918.05,135.94 L919.07,135.95 L920.10,135.96 L921.12,135.98 L922.14,135.99 L923.17,136.00 L924.19,136.01 L925.21,136.02 L926.23,136.03 L927.26,136.04 L928.28,136.05 L929.30,136.06 L930.33,136.07 L931.35,136.08 L932.37,136.09 L933.39,136.10 L934.42,136.11 L935.44,136.11 L936.46,136.12 L937.49,136.13 L938.51,136.14 L939.53,136.15 L940.56,136.16 L941.58,136.17 L942.60,136.17 L943.62,136.18 L944.65,136.19 L945.67,136.20 L946.69,136.21 L947.72,136.22 L948.74,136.22 L949.76,136.23 L950.79,136.24 L951.81,136.25 L952.83,136.26 L953.86,136.27 L954.88,136.28 L955.90,136.28 L956.92,136.29 L957.95,136.30 L958.97,136.31 L959.99,136.32 L961.02,136.33 L962.04,136.34 L963.06,136.35 L964.09,136.36 L965.11,136.37 L966.13,136.38 L967.15,136.39 L968.18,136.41 L969.20,136.42" class="cur" stroke="#1777b8" style="stroke-width:2.1" stroke-dasharray="4.8 2"/>
<path d="M560.00,162.59 L561.02,162.66 L562.05,162.87 L563.07,163.22 L564.09,163.70 L565.12,164.30 L566.14,165.03 L567.16,165.89 L568.18,166.85 L569.21,167.94 L570.23,169.13 L571.25,170.45 L572.28,171.87 L573.30,173.41 L574.32,175.07 L575.35,176.85 L576.37,178.74 L577.39,180.75 L578.41,182.87 L579.44,185.12 L580.46,187.46 L581.48,189.88 L582.51,192.37 L583.53,194.91 L584.55,197.48 L585.58,200.08 L586.60,202.67 L587.62,205.25 L588.64,207.79 L589.67,210.29 L590.69,212.72 L591.71,215.08 L592.74,217.34 L593.76,219.50 L594.78,221.57 L595.81,223.54 L596.83,225.42 L597.85,227.21 L598.87,228.91 L599.90,230.55 L600.92,232.13 L601.94,233.67 L602.97,235.16 L603.99,236.60 L605.01,237.98 L606.03,239.28 L607.06,240.52 L608.08,241.67 L609.10,242.73 L610.13,243.69 L611.15,244.55 L612.17,245.30 L613.20,245.93 L614.22,246.43 L615.24,246.80 L616.26,247.04 L617.29,247.13 L618.31,247.07 L619.33,246.88 L620.36,246.55 L621.38,246.08 L622.40,245.49 L623.43,244.77 L624.45,243.93 L625.47,242.98 L626.50,241.91 L627.52,240.73 L628.54,239.45 L629.56,238.07 L630.59,236.59 L631.61,235.02 L632.63,233.36 L633.66,231.62 L634.68,229.79 L635.70,227.89 L636.73,225.92 L637.75,223.87 L638.77,221.76 L639.79,219.57 L640.82,217.31 L641.84,214.99 L642.86,212.60 L643.89,210.15 L644.91,207.65 L645.93,205.12 L646.96,202.56 L647.98,199.98 L649.00,197.39 L650.02,194.80 L651.05,192.22 L652.07,189.66 L653.09,187.13 L654.12,184.63 L655.14,182.19 L656.16,179.80 L657.19,177.46 L658.21,175.17 L659.23,172.94 L660.25,170.75 L661.28,168.60 L662.30,166.50 L663.32,164.45 L664.35,162.44 L665.37,160.47 L666.39,158.54 L667.41,156.65 L668.44,154.80 L669.46,153.00 L670.48,151.25 L671.51,149.56 L672.53,147.92 L673.55,146.33 L674.58,144.79 L675.60,143.30 L676.62,141.87 L677.64,140.48 L678.67,139.14 L679.69,137.85 L680.71,136.60 L681.74,135.40 L682.76,134.24 L683.78,133.12 L684.81,132.05 L685.83,131.03 L686.85,130.05 L687.88,129.11 L688.90,128.22 L689.92,127.38 L690.94,126.58 L691.97,125.83 L692.99,125.12 L694.01,124.45 L695.04,123.82 L696.06,123.23 L697.08,122.68 L698.11,122.17 L699.13,121.70 L700.15,121.26 L701.17,120.86 L702.20,120.50 L703.22,120.16 L704.24,119.86 L705.27,119.59 L706.29,119.35 L707.31,119.14 L708.34,118.96 L709.36,118.80 L710.38,118.66 L711.40,118.55 L712.43,118.47 L713.45,118.40 L714.47,118.35 L715.50,118.32 L716.52,118.31 L717.54,118.31 L718.57,118.33 L719.59,118.37 L720.61,118.42 L721.63,118.48 L722.66,118.55 L723.68,118.63 L724.70,118.72 L725.73,118.83 L726.75,118.94 L727.77,119.06 L728.80,119.19 L729.82,119.32 L730.84,119.46 L731.86,119.61 L732.89,119.76 L733.91,119.91 L734.93,120.07 L735.96,120.23 L736.98,120.40 L738.00,120.57 L739.03,120.75 L740.05,120.92 L741.07,121.10 L742.09,121.28 L743.12,121.47 L744.14,121.66 L745.16,121.84 L746.19,122.03 L747.21,122.23 L748.23,122.42 L749.25,122.61 L750.28,122.81 L751.30,123.00 L752.32,123.20 L753.35,123.39 L754.37,123.59 L755.39,123.78 L756.42,123.97 L757.44,124.17 L758.46,124.36 L759.49,124.55 L760.51,124.73 L761.53,124.92 L762.55,125.10 L763.58,125.28 L764.60,125.46 L765.62,125.64 L766.65,125.81 L767.67,125.98 L768.69,126.14 L769.72,126.31 L770.74,126.47 L771.76,126.63 L772.78,126.78 L773.81,126.93 L774.83,127.08 L775.85,127.23 L776.88,127.38 L777.90,127.52 L778.92,127.66 L779.95,127.80 L780.97,127.94 L781.99,128.07 L783.01,128.20 L784.04,128.33 L785.06,128.46 L786.08,128.58 L787.11,128.71 L788.13,128.83 L789.15,128.95 L790.18,129.06 L791.20,129.18 L792.22,129.29 L793.24,129.41 L794.27,129.52 L795.29,129.63 L796.31,129.73 L797.34,129.84 L798.36,129.94 L799.38,130.05 L800.40,130.15 L801.43,130.25 L802.45,130.35 L803.47,130.45 L804.50,130.54 L805.52,130.64 L806.54,130.74 L807.57,130.83 L808.59,130.92 L809.61,131.01 L810.63,131.10 L811.66,131.19 L812.68,131.28 L813.70,131.37 L814.73,131.46 L815.75,131.54 L816.77,131.63 L817.80,131.71 L818.82,131.79 L819.84,131.87 L820.87,131.95 L821.89,132.03 L822.91,132.11 L823.93,132.19 L824.96,132.27 L825.98,132.34 L827.00,132.42 L828.03,132.49 L829.05,132.56 L830.07,132.63 L831.10,132.71 L832.12,132.78 L833.14,132.84 L834.16,132.91 L835.19,132.98 L836.21,133.05 L837.23,133.11 L838.26,133.18 L839.28,133.24 L840.30,133.30 L841.33,133.37 L842.35,133.43 L843.37,133.49 L844.39,133.55 L845.42,133.61 L846.44,133.67 L847.46,133.72 L848.49,133.78 L849.51,133.84 L850.53,133.89 L851.56,133.95 L852.58,134.00 L853.60,134.05 L854.62,134.10 L855.65,134.15 L856.67,134.20 L857.69,134.25 L858.72,134.30 L859.74,134.35 L860.76,134.40 L861.79,134.44 L862.81,134.49 L863.83,134.53 L864.85,134.58 L865.88,134.62 L866.90,134.66 L867.92,134.71 L868.95,134.75 L869.97,134.79 L870.99,134.83 L872.02,134.87 L873.04,134.90 L874.06,134.94 L875.08,134.98 L876.11,135.01 L877.13,135.05 L878.15,135.08 L879.18,135.12 L880.20,135.15 L881.22,135.18 L882.25,135.21 L883.27,135.25 L884.29,135.28 L885.31,135.31 L886.34,135.33 L887.36,135.36 L888.38,135.39 L889.41,135.42 L890.43,135.44 L891.45,135.47 L892.48,135.49 L893.50,135.52 L894.52,135.54 L895.54,135.56 L896.57,135.59 L897.59,135.61 L898.61,135.63 L899.64,135.65 L900.66,135.67 L901.68,135.69 L902.71,135.71 L903.73,135.73 L904.75,135.74 L905.77,135.76 L906.80,135.78 L907.82,135.80 L908.84,135.81 L909.87,135.83 L910.89,135.84 L911.91,135.86 L912.94,135.87 L913.96,135.89 L914.98,135.90 L916.00,135.91 L917.03,135.93 L918.05,135.94 L919.07,135.95 L920.10,135.96 L921.12,135.98 L922.14,135.99 L923.17,136.00 L924.19,136.01 L925.21,136.02 L926.23,136.03 L927.26,136.04 L928.28,136.05 L929.30,136.06 L930.33,136.07 L931.35,136.08 L932.37,136.09 L933.39,136.10 L934.42,136.11 L935.44,136.11 L936.46,136.12 L937.49,136.13 L938.51,136.14 L939.53,136.15 L940.56,136.16 L941.58,136.17 L942.60,136.17 L943.62,136.18 L944.65,136.19 L945.67,136.20 L946.69,136.21 L947.72,136.22 L948.74,136.22 L949.76,136.23 L950.79,136.24 L951.81,136.25 L952.83,136.26 L953.86,136.27 L954.88,136.28 L955.90,136.28 L956.92,136.29 L957.95,136.30 L958.97,136.31 L959.99,136.32 L961.02,136.33 L962.04,136.34 L963.06,136.35 L964.09,136.36 L965.11,136.37 L966.13,136.38 L967.15,136.39 L968.18,136.41 L969.20,136.42" class="cur" stroke="#e8281c" style="stroke-width:2.0"/>
</g>
<circle cx="584.96" cy="136.60" r="4.0" fill="none" stroke="#1777b8" stroke-width="2.7"/>
<circle cx="680.71" cy="136.60" r="4.0" fill="none" stroke="#e8281c" stroke-width="2.7"/>
<line x1="600.92" y1="251.20" x2="600.92" y2="243.20" class="tick"/>
<line x1="600.92" y1="22.00" x2="600.92" y2="30.00" class="tick"/>
<line x1="641.84" y1="251.20" x2="641.84" y2="243.20" class="tick"/>
<line x1="641.84" y1="22.00" x2="641.84" y2="30.00" class="tick"/>
<line x1="682.76" y1="251.20" x2="682.76" y2="243.20" class="tick"/>
<line x1="682.76" y1="22.00" x2="682.76" y2="30.00" class="tick"/>
<line x1="723.68" y1="251.20" x2="723.68" y2="243.20" class="tick"/>
<line x1="723.68" y1="22.00" x2="723.68" y2="30.00" class="tick"/>
<line x1="764.60" y1="251.20" x2="764.60" y2="243.20" class="tick"/>
<line x1="764.60" y1="22.00" x2="764.60" y2="30.00" class="tick"/>
<line x1="805.52" y1="251.20" x2="805.52" y2="243.20" class="tick"/>
<line x1="805.52" y1="22.00" x2="805.52" y2="30.00" class="tick"/>
<line x1="846.44" y1="251.20" x2="846.44" y2="243.20" class="tick"/>
<line x1="846.44" y1="22.00" x2="846.44" y2="30.00" class="tick"/>
<line x1="887.36" y1="251.20" x2="887.36" y2="243.20" class="tick"/>
<line x1="887.36" y1="22.00" x2="887.36" y2="30.00" class="tick"/>
<line x1="928.28" y1="251.20" x2="928.28" y2="243.20" class="tick"/>
<line x1="928.28" y1="22.00" x2="928.28" y2="30.00" class="tick"/>
<line x1="560.00" y1="44.92" x2="568.00" y2="44.92" class="tick"/>
<line x1="969.20" y1="44.92" x2="961.20" y2="44.92" class="tick"/>
<line x1="560.00" y1="90.76" x2="568.00" y2="90.76" class="tick"/>
<line x1="969.20" y1="90.76" x2="961.20" y2="90.76" class="tick"/>
<line x1="560.00" y1="136.60" x2="568.00" y2="136.60" class="tick"/>
<line x1="969.20" y1="136.60" x2="961.20" y2="136.60" class="tick"/>
<line x1="560.00" y1="182.44" x2="568.00" y2="182.44" class="tick"/>
<line x1="969.20" y1="182.44" x2="961.20" y2="182.44" class="tick"/>
<line x1="560.00" y1="228.28" x2="568.00" y2="228.28" class="tick"/>
<line x1="969.20" y1="228.28" x2="961.20" y2="228.28" class="tick"/>
<rect x="817.6" y="200.5" width="142.9" height="42.3" fill="#fff" stroke="#000" stroke-width="1.1"/>
<text x="831.2" y="216.8" class="t15" textLength="66.6" lengthAdjust="spacingAndGlyphs">Standard</text>
<text x="827.4" y="237.9" class="t15" textLength="70.0" lengthAdjust="spacingAndGlyphs">Improved</text>
<line x1="907" y1="210.9" x2="951" y2="210.9" stroke="#1777b8" stroke-width="1.9" stroke-dasharray="5 2"/>
<line x1="907" y1="232.1" x2="951" y2="232.1" stroke="#e8281c" stroke-width="2.0"/>
<rect x="560.0" y="22.0" width="409.20" height="229.20" class="border"/>
<text x="551.0" y="50.7" class="t15" text-anchor="end">2</text>
<text x="551.0" y="96.6" class="t15" text-anchor="end">1</text>
<text x="551.0" y="142.4" class="t15" text-anchor="end">0</text>
<text x="551.0" y="188.2" class="t15" text-anchor="end">-1</text>
<text x="551.0" y="234.1" class="t15" text-anchor="end">-2</text>
<text x="562.2" y="278.9" class="t15" text-anchor="middle">0</text>
<text x="603.1" y="278.9" class="t15" text-anchor="middle">1</text>
<text x="644.0" y="278.9" class="t15" text-anchor="middle">2</text>
<text x="685.0" y="278.9" class="t15" text-anchor="middle">3</text>
<text x="725.9" y="278.9" class="t15" text-anchor="middle">4</text>
<text x="766.8" y="278.9" class="t15" text-anchor="middle">5</text>
<text x="807.7" y="278.9" class="t15" text-anchor="middle">6</text>
<text x="848.6" y="278.9" class="t15" text-anchor="middle">7</text>
<text x="889.6" y="278.9" class="t15" text-anchor="middle">8</text>
<text x="930.5" y="278.9" class="t15" text-anchor="middle">9</text>
<text x="971.4" y="278.9" class="t15" text-anchor="middle">10</text>
<text transform="translate(521.6,136.3) rotate(-90)" class="t15" text-anchor="middle" textLength="102.4" lengthAdjust="spacingAndGlyphs">Strong Energy</text>
<text y="310.4" class="t15"><tspan x="738.1">x</tspan><tspan x="746.3">=</tspan><tspan x="755.9">r</tspan><tspan x="772.6">√</tspan><tspan x="782.1">θ</tspan></text>
<line x1="764.1" y1="310.8" x2="771.0" y2="298.3" stroke="#000" stroke-width="1.1"/>
</g>
</svg></body></html>
